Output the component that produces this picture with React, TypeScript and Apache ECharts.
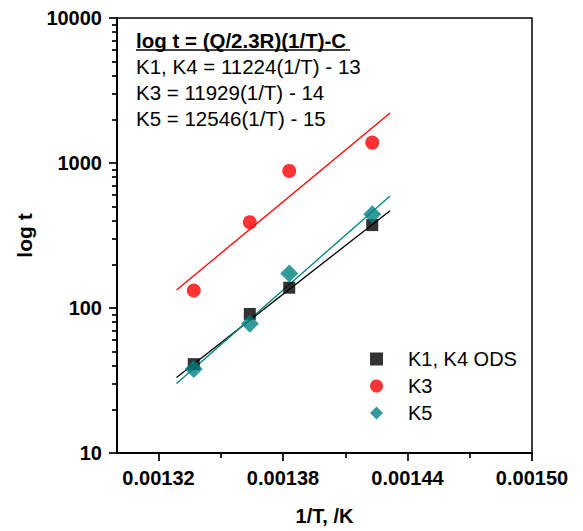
import React, { useEffect, useRef } from "react";
import * as echarts from "echarts";

// 1/T values (K^-1) for the measured temperatures
const invT = [0.001337, 0.001364, 0.001383, 0.001423];
const k1k4 = [41, 91, 138, 373];
const k3 = [132, 390, 882, 1383];
const k5 = [38, 78, 173, 443];

// fitted-line end points
const fitX = [0.0013287, 0.0014316];
const fitK1 = [33.2, 469];
const fitK3 = [133, 2208];
const fitK5 = [30.1, 593];

const xMajor = [0.00132, 0.00138, 0.00144, 0.0015];
const xMinor = [0.00135, 0.00141, 0.00147];
const yMajor = [10, 100, 1000, 10000];
const yMinor = [20, 30, 40, 50, 60, 70, 80, 90, 200, 300, 400, 500, 600, 700, 800, 900, 2000, 3000, 4000, 5000, 6000, 7000, 8000, 9000];

const legendNames = ["K1, K4 ODS", "K3", "K5"];
const noteTitle = "log t = (Q/2.3R)(1/T)-C";
const noteLines = ["K1, K4 = 11224(1/T) - 13", "K3 = 11929(1/T) - 14", "K5 = 12546(1/T) - 15"];

const FONT = '"Liberation Sans", Arial, Helvetica, sans-serif';

const pairs = (xs: number[], ys: number[]) => xs.map((x, i) => [x, ys[i]]);

export default function App() {
  const ref = useRef<HTMLDivElement>(null);
  useEffect(() => {
    if (!ref.current) return;
    const chart = echarts.init(ref.current, null, { renderer: "svg" });
    const black = "#000";
    const red = "#ff0000";
    const teal = "#008080";
    const hiddenLine = { show: true, onZero: false, lineStyle: { color: "rgba(0,0,0,0)", width: 0 } };
    const option: any = {
      animation: false,
      backgroundColor: "#fff",
      grid: {
        left: 117,
        right: 51,
        top: 18,
        bottom: 78,
        show: true,
        borderColor: black,
        borderWidth: 1.5,
        backgroundColor: "transparent",
      },
      xAxis: [
        {
          type: "value",
          min: 0.0013,
          max: 0.0015,
          position: "bottom",
          name: "1/T, /K",
          nameLocation: "middle",
          nameGap: 53,
          nameTextStyle: { fontFamily: FONT, fontWeight: "bold", fontSize: 20, color: black },
          axisLine: { show: true, onZero: false, lineStyle: { color: black, width: 2 } },
          axisTick: { show: true, customValues: xMajor, length: 8, lineStyle: { color: black, width: 1.7 } },
          axisLabel: {
            customValues: xMajor,
            formatter: (v: number) => v.toFixed(5),
            margin: 15,
            fontFamily: FONT,
            fontWeight: "bold",
            fontSize: 20,
            color: black,
          },
          splitLine: { show: false },
        },
        {
          type: "value",
          min: 0.0013,
          max: 0.0015,
          position: "bottom",
          axisLine: hiddenLine,
          axisTick: { show: true, customValues: xMinor, length: 5, lineStyle: { color: black, width: 1.7 } },
          axisLabel: { show: false },
          splitLine: { show: false },
        },
      ],
      yAxis: [
        {
          type: "log",
          logBase: 10,
          min: 10,
          max: 10000,
          position: "left",
          name: "log t",
          nameLocation: "middle",
          nameGap: 80,
          nameRotate: 90,
          nameTextStyle: { fontFamily: FONT, fontWeight: "bold", fontSize: 21, color: black },
          axisLine: { show: true, lineStyle: { color: black, width: 2 } },
          axisTick: { show: true, customValues: yMajor, length: 8, lineStyle: { color: black, width: 1.7 } },
          axisLabel: {
            customValues: yMajor,
            formatter: (v: number) => String(Math.round(v)),
            margin: 15,
            fontFamily: FONT,
            fontWeight: "bold",
            fontSize: 20,
            color: black,
          },
          splitLine: { show: false },
          minorTick: { show: false },
        },
        {
          type: "log",
          logBase: 10,
          min: 10,
          max: 10000,
          position: "left",
          axisLine: hiddenLine,
          axisTick: { show: true, customValues: yMinor, length: 5, lineStyle: { color: black, width: 1.7 } },
          axisLabel: { show: false },
          splitLine: { show: false },
        },
      ],
      legend: {
        data: legendNames,
        orient: "vertical",
        left: 365,
        top: 344,
        itemWidth: 13,
        itemHeight: 13,
        itemGap: 7,
        textStyle: { fontFamily: FONT, fontSize: 20, color: black, lineHeight: 20, padding: [0, 0, 0, 20] },
      },
      graphic: [
        {
          type: "text",
          x: 136,
          y: 40.5,
          style: { text: noteTitle, fontFamily: FONT, fontWeight: "bold", fontSize: 20.5, fill: black, align: "left", verticalAlign: "middle" },
        },
        { type: "line", shape: { x1: 136, y1: 50, x2: 350, y2: 50 }, style: { stroke: black, lineWidth: 1.5 } },
        ...noteLines.map((t, i) => ({
          type: "text",
          x: 136,
          y: 66.7 + i * 25.8,
          style: { text: t, fontFamily: FONT, fontSize: 20.5, fill: black, align: "left", verticalAlign: "middle" },
        })),
      ],
      series: [
        { name: "fit K1", type: "line", data: pairs(fitX, fitK1), symbol: "none", lineStyle: { color: black, width: 1.3 }, z: 2 },
        { name: "fit K3", type: "line", data: pairs(fitX, fitK3), symbol: "none", lineStyle: { color: red, width: 1.3 }, z: 2 },
        { name: "fit K5", type: "line", data: pairs(fitX, fitK5), symbol: "none", lineStyle: { color: teal, width: 1.3 }, z: 2 },
        { name: legendNames[0], type: "scatter", data: pairs(invT, k1k4), symbol: "rect", symbolSize: 12, itemStyle: { color: black }, z: 3 },
        { name: legendNames[1], type: "scatter", data: pairs(invT, k3), symbol: "circle", symbolSize: 14, itemStyle: { color: red }, z: 3 },
        { name: legendNames[2], type: "scatter", data: pairs(invT, k5), symbol: "diamond", symbolSize: 18, itemStyle: { color: teal }, z: 3 },
      ],
    };
    chart.setOption(option);
    return () => chart.dispose();
  }, []);
  return <div ref={ref} style={{ position: "fixed", left: 0, top: 0, width: 583, height: 531, background: "#fff" }} />;
}
